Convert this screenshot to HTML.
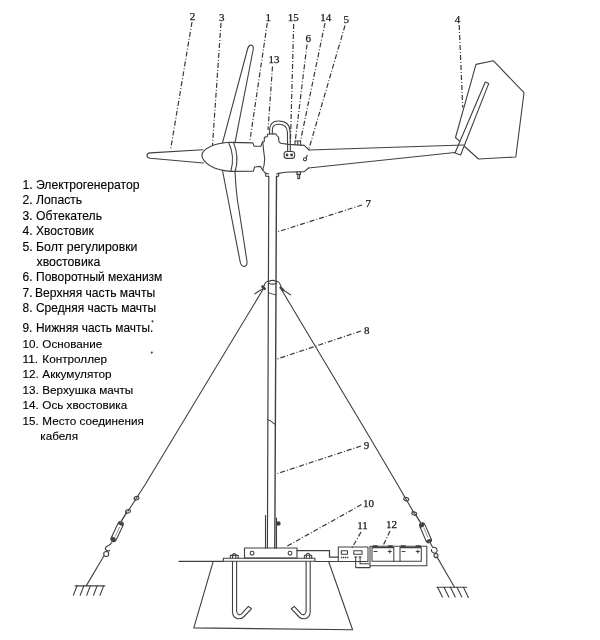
<!DOCTYPE html>
<html lang="ru">
<head>
<meta charset="utf-8">
<title>Схема ветрогенератора</title>
<style>
html,body{margin:0;padding:0;background:#fff;}
body{width:600px;height:640px;overflow:hidden;position:relative;font-family:"Liberation Sans","DejaVu Sans",sans-serif;}
svg{position:absolute;left:0;top:0;display:block;will-change:transform;}
.ln{fill:none;stroke:#404040;stroke-width:1.1;stroke-linecap:round;stroke-linejoin:round;}
.th{fill:none;stroke:#404040;stroke-width:1.05;stroke-linecap:round;stroke-linejoin:round;}
.ld{fill:none;stroke:#383838;stroke-width:1.2;stroke-dasharray:5 2 1 2;}
.num{font-family:"Liberation Serif","DejaVu Serif",serif;font-size:11px;fill:#1a1a1a;stroke:#1a1a1a;stroke-width:0.25;text-anchor:middle;}
.lg{font-family:"Liberation Sans","DejaVu Sans",sans-serif;fill:#000;stroke:#000;stroke-width:0.12;}
</style>
</head>
<body>
<svg width="600" height="640" viewBox="0 0 600 640">
<rect width="600" height="640" fill="#fff"/>

<!-- legend -->
<g class="lg" id="legend">
<text x="22.5" y="189.2" font-size="12.2">1.</text><text x="36" y="189.2" font-size="12.2">Электрогенератор</text>
<text x="22.5" y="204.1" font-size="12.2">2.</text><text x="36" y="204.1" font-size="12.2">Лопасть</text>
<text x="22.5" y="219.8" font-size="12.2">3.</text><text x="36" y="219.8" font-size="12.2">Обтекатель</text>
<text x="22.5" y="235" font-size="12.1">4.</text><text x="36" y="235" font-size="12.1">Хвостовик</text>
<text x="22.5" y="250.5" font-size="12.3">5.</text><text x="36" y="250.5" font-size="12.3">Болт регулировки</text>
<text x="36.5" y="265.8" font-size="12.3">хвостовика</text>
<text x="22.5" y="281.3" font-size="12.0">6.</text><text x="36" y="281.3" font-size="12.0">Поворотный механизм</text>
<text x="22.5" y="296.8" font-size="12.1">7.</text><text x="35" y="296.8" font-size="12.1">Верхняя часть мачты</text>
<text x="22.5" y="312" font-size="11.95">8.</text><text x="36" y="312" font-size="11.95">Средняя часть мачты</text>
<text x="22.5" y="332" font-size="11.85">9.</text><text x="36" y="332" font-size="11.85">Нижняя часть мачты.</text>
<text x="22.5" y="347.5" font-size="11.7">10.</text><text x="42.3" y="347.5" font-size="11.7">Основание</text>
<text x="22.5" y="363" font-size="11.75">11.</text><text x="42.3" y="363" font-size="11.75">Контроллер</text>
<text x="22.5" y="378.3" font-size="11.75">12.</text><text x="42.3" y="378.3" font-size="11.75">Аккумулятор</text>
<text x="22.5" y="393.8" font-size="11.7">13.</text><text x="42.3" y="393.8" font-size="11.7">Верхушка мачты</text>
<text x="22.5" y="409.3" font-size="11.7">14.</text><text x="42.3" y="409.3" font-size="11.7">Ось хвостовика</text>
<text x="22.5" y="424.5" font-size="11.7">15.</text><text x="42.3" y="424.5" font-size="11.7">Место соединения</text>
<text x="40.3" y="439.5" font-size="11.7">кабеля</text>
</g>

<!-- callout numbers -->
<g class="num" id="nums">
<text x="192.5" y="20">2</text>
<text x="221.8" y="21">3</text>
<text x="268.2" y="21.3">1</text>
<text x="274" y="63.4">13</text>
<text x="293.3" y="21">15</text>
<text x="308.3" y="42">6</text>
<text x="325.8" y="20.5">14</text>
<text x="346.3" y="23">5</text>
<text x="457.5" y="22.5">4</text>
<text x="368.2" y="206.6">7</text>
<text x="366.8" y="334">8</text>
<text x="366.4" y="448.6">9</text>
<text x="368.6" y="507.2">10</text>
<text x="362.5" y="529">11</text>
<text x="391.5" y="528">12</text>
</g>

<!-- leader lines -->
<g class="ld" id="leaders">
<path d="M192 22 L170.5 150"/>
<path d="M221 23 L212.5 145"/>
<path d="M267.3 23 L250 140"/>
<path d="M272.5 66.5 L268 130"/>
<path d="M293.7 24 L290.4 143"/>
<path d="M307 44.5 L295.2 141.5"/>
<path d="M325 23 L300.4 141.5"/>
<path d="M345 25.5 L309 148.6"/>
<path d="M459.2 25 L462.7 107.5"/>
<path d="M362 205 L277 232"/>
<path d="M361 331 L276.6 359.2"/>
<path d="M361 446 L276 474"/>
<path d="M361.5 504.6 L286.4 546.6"/>
<path d="M361 532 L352 548"/>
<path d="M390 531 L382 548"/>
</g>

<!-- rotor -->
<g class="ln" id="rotor">
<!-- left blade -->
<path d="M203 149.7 L150.2 152.9 Q147 153.2 147 155.4 Q147 157.8 150.2 158.2 L203.4 163"/>
<!-- upper blade -->
<path d="M222.5 142.8 L247.7 48.5 Q249 44.6 251.4 45.2 Q253.8 45.8 253.2 49.5 L235 142.6"/>
<!-- lower blade -->
<path d="M222.6 171 L240.2 262 Q241.2 266.6 244.4 266.4 Q247.4 266 247 261.5 Q241 222 237.4 200 Q235.6 186 235 171.6"/>
<!-- nose cone -->
<path d="M230 142.3 Q219 142.8 211.5 146 Q202.2 150.2 201.9 155.3 Q202 160.8 210.5 166 Q218 170.3 230.6 171.4"/>
<path d="M228.6 142.4 Q235.2 156 230.8 171.4"/>
<path d="M233.4 142.4 Q239.4 156 235.2 171.5"/>
<!-- generator body -->
<path d="M230 142.4 L252.8 142.9 L254.2 146.2 L260.8 146.2 L262.6 141.8"/>
<path d="M230.6 171.4 L253.4 171.2 L254.6 167 L260.6 166.4 L262.6 170.2"/>
</g>

<!-- nacelle / yaw housing -->
<g class="ln" id="nacelle">
<path d="M262.8 142 Q263.4 150 264.7 159 Q264.4 166 262.8 170 L265.2 173"/>
<path d="M262.8 142 L264.2 141.8 L264.4 137.2 L267.2 136.6 L267.6 134 L275.6 133.8 L277.4 136 L278.6 137.4 L279 142 L280.8 143.2 L288.5 144.4 L304.3 145.4 L309 150"/>
<path d="M295 144.6 L295 141 L300.6 141 L300.6 144.8"/>
<path d="M297.8 141 L297.8 144.6"/>
<!-- cable tube -->
<path d="M269.5 134 L269.7 128.6 Q270.4 121.3 278 121 Q289.6 120.7 290.1 131.6 L290.4 151.4"/>
<path d="M272.3 134 L272.4 129.2 Q272.9 124.5 278 124.3 Q287 124 287.4 132 L287.7 151.4"/>
<!-- connector -->
<rect x="284.1" y="151.5" width="10.5" height="6.9" rx="2.6" ry="2.6"/>
<circle cx="287" cy="155" r="0.9" fill="#2a2a2a"/>
<circle cx="291.6" cy="155" r="0.9" fill="#2a2a2a"/>
<!-- tail axis hole -->
<circle cx="305" cy="159.3" r="1.6"/>
<path d="M305.9 157.8 L307.3 155.4"/>
<!-- bottom -->
<path d="M265.2 173 L268.6 174 M276.5 174 L278.6 173.4 L285 172.3 L304.3 171.6 L308.5 168"/>
<path d="M265.6 173.2 L265.8 176.2 L268.6 176.4 M276.4 176.4 L278.6 176.2 L278.8 173.4"/>
<path d="M296.9 172 L296.9 174.4 L300.4 174.4 L300.4 171.8 M297.8 174.4 L297.8 178.6 L299.6 178.6 L299.6 174.4"/>
</g>

<!-- tail -->
<g class="ln" id="tail">
<path d="M308.5 168 L455 152.5"/>
<path d="M455.5 137.5 L476 64.4 L493.3 60.7 L524 92.7 L515.8 157 L478.5 159 L463.5 145.5"/>
<path d="M455.5 137.5 L461 142.6"/>
<path d="M485.3 82 L488.7 83.6 L460.6 155 L455 153 Z" fill="#fff"/>
<path d="M309 150 L463.6 145"/>
</g>

<!-- mast -->
<g class="ln" id="mast">
<path d="M268.8 176.4 L267.4 548" stroke-width="1.2"/>
<path d="M276.5 176.4 L274.8 548" stroke-width="1.4"/>
<path d="M267.9 419.8 Q270.6 420.4 272 422 Q273.4 423.6 275.4 424.3"/>
<path d="M268.8 292.8 L275.8 295" stroke-width="0.9"/>
<path d="M265.5 515.6 L265.5 548"/>
<path d="M276.5 518 L276.5 548"/>
<circle cx="278.4" cy="523.4" r="1.7" fill="#333"/>
</g>

<!-- guy wires -->
<g class="ln" id="wires">
<path d="M268.6 281.6 Q272.5 279.2 276.4 281.6"/>
<path d="M268.6 283.2 Q272.5 285 276.4 283.2"/>
<path d="M268.6 281 Q264.6 281.6 263.6 287.6"/>
<path d="M276.4 281 Q280.6 282 281.4 289"/>
<path d="M261.6 286.6 L264.6 289.6 M262.4 285.8 L265.4 288.8" stroke-width="1.3"/>
<path d="M280 287.8 L283 290.8 M280.8 287 L283.8 290" stroke-width="1.3"/>
<path d="M263.4 288.4 Q259 290.6 254.8 293.8"/>
<path d="M282 289.6 Q286.4 291.8 290.4 294.8"/>
<path d="M263.4 288.8 L144.9 485 L128 511.2"/>
<path d="M103.7 556.2 L86.2 585.9"/>
<path d="M281.8 290 L282.3 291 L371.3 440 L397.8 485 L414.4 513.6"/>
<path d="M437.1 557.1 L454.5 587.2"/>
</g>

<!-- turnbuckles -->
<g class="ln" id="turn">
<ellipse cx="136.5" cy="498.2" rx="2.5" ry="1.7" transform="rotate(-20 136.5 498.2)"/>
<ellipse cx="128" cy="511.4" rx="2.5" ry="1.7" transform="rotate(-20 128 511.4)"/>
<path d="M126.8 512.2 L121.4 521.2" stroke-width="1.3"/>
<g transform="translate(117.1 531.6) rotate(-64.5)"><rect x="-10.6" y="-2.7" width="21.2" height="5.4" rx="2.6"/><path d="M-9.6 -1.6 L-9.6 1.6 M-8.4 -2 L-8.4 2 M-7.2 -2 L-7.2 1 M8 -2 L8 2 M9.2 -1.6 L9.2 1.6" stroke-width="1.5"/><path d="M-5 0.4 L5 0.4" stroke-width="0.5"/></g>
<path d="M112.4 541.6 Q110.6 544.8 107.6 546 Q104.6 547.4 105.6 549.4 Q107 551.4 109.6 550.6"/>
<circle cx="106.2" cy="554" r="2.5"/>

<ellipse cx="406.2" cy="499.2" rx="2.5" ry="1.7" transform="rotate(20 406.2 499.2)"/>
<ellipse cx="414.2" cy="513.5" rx="2.5" ry="1.7" transform="rotate(20 414.2 513.5)"/>
<path d="M415.4 514.4 L420.4 522.4" stroke-width="1.3"/>
<g transform="translate(425.5 532.8) rotate(66.5)"><rect x="-10.6" y="-2.7" width="21.2" height="5.4" rx="2.6"/><path d="M-9.6 1.6 L-9.6 -1.6 M-8.4 2 L-8.4 -2 M-7.2 2 L-7.2 -1 M8 2 L8 -2 M9.2 1.6 L9.2 -1.6" stroke-width="1.5"/><path d="M-5 -0.4 L5 -0.4" stroke-width="0.5"/></g>
<path d="M430 542.6 L432.2 546.6"/>
<path d="M432.4 547.4 Q436.6 546.6 437.2 550.4 Q436.8 553.6 433.6 553 Q431.2 552.2 431.4 549.6"/>
<circle cx="436" cy="555.6" r="2"/>
</g>

<!-- ground anchors -->
<g class="ln" id="ground" stroke-width="1.25">
<path d="M75.1 585.9 L104.8 585.9"/>
<path d="M77 585.9 L73.4 595.2 M83.8 585.9 L80.2 595.2 M90.3 585.9 L86.7 595.2 M97.1 585.9 L93.5 595.2 M103.6 585.9 L100 595.2"/>
<path d="M436.9 587.2 L466.7 587.2"/>
<path d="M437.6 587.2 L442.4 597 M444 587.2 L448.8 597 M450.4 587.2 L455.2 597 M457 587.2 L461.8 597 M463.5 587.2 L468.3 597.4"/>
</g>

<!-- base -->
<g class="ln" id="base">
<path d="M179 561.4 L223.3 561.4"/>
<rect x="223.3" y="558.2" width="91.6" height="3.1"/>
<rect x="244.5" y="548" width="52.5" height="10"/>
<circle cx="252.1" cy="553.2" r="1.9"/>
<circle cx="290" cy="553.2" r="1.9"/>
<path d="M315 561.5 L338 561.5"/>
<path d="M213 562.2 L193.8 627.9 L352.6 629.8 L328.8 562"/>
<!-- J bolts -->
<path d="M232.5 561.5 L232.5 612 Q232.8 617.6 237.4 618.6 Q241.4 619.2 243.6 617 L251.4 608.8 L248.4 606.4 L241.8 613.6 Q240 615.2 238.4 614.4 Q236.8 613.6 236.6 611 L236.6 561.5"/>
<path d="M310.2 561.5 L310.2 612 Q309.9 617.6 305.3 618.6 Q301.3 619.2 299.1 617 L291.3 608.8 L294.3 606.4 L300.9 613.6 Q302.7 615.2 304.3 614.4 Q305.9 613.6 306.1 611 L306.1 561.5"/>
<path d="M230.4 558 L230.4 555.4 L238.2 555.4 L238.2 558 M232.6 558 L232.6 554.6 Q234.2 552.4 235.8 554.6 L235.8 558"/>
<path d="M304.4 558 L304.4 555.2 L311.7 555.2 L311.7 558 M306.4 558 L306.4 554.4 Q308 552.2 309.7 554.4 L309.7 558"/>
</g>

<!-- controller & batteries -->
<g class="th" id="elec">
<path d="M297 550.6 L329.5 550.6 L329.5 557.2 L338.3 557.2" stroke-width="1.25"/>
<rect x="338.3" y="547" width="29.7" height="14.4"/>
<rect x="341.3" y="550.8" width="6.2" height="3.4"/>
<rect x="353.8" y="550.8" width="8.2" height="3.4"/>
<path d="M340.8 557.5 L348.4 557.5" stroke-dasharray="1.4 0.7" stroke-width="1.7" stroke-linecap="butt"/>
<path d="M354.6 557 L356.8 557 M359 557 L361.2 557"/>
<path d="M355.7 557 L355.7 567.6 L370 567.6 L370 565.7"/>
<path d="M360.1 557 L360.1 563.8 L369 563.8"/>
<path d="M370 546.3 L426.8 546.3 L426.8 565.7 L370 565.7 Z"/>
<rect x="372" y="547.6" width="21.8" height="13.6"/>
<rect x="400" y="547.6" width="21.3" height="13.6"/>
<path d="M393.8 561.2 L400 561.2"/>
<path d="M373.5 546.3 L377 546.3 M388.5 546.3 L392 546.3 M401.5 546.3 L405 546.3 M416.5 546.3 L420 546.3" stroke-width="2"/>
<path d="M374 551.5 L377 551.5 M388.2 551.5 L391.4 551.5 M389.8 550 L389.8 553 M402 551.5 L405 551.5 M416.2 551.5 L419.4 551.5 M417.8 550 L417.8 553"/>
<circle cx="152.5" cy="321.3" r="0.55" fill="#666"/>
<circle cx="151.8" cy="352.6" r="0.5" fill="#777"/>
</g>
</svg>
</body>
</html>
